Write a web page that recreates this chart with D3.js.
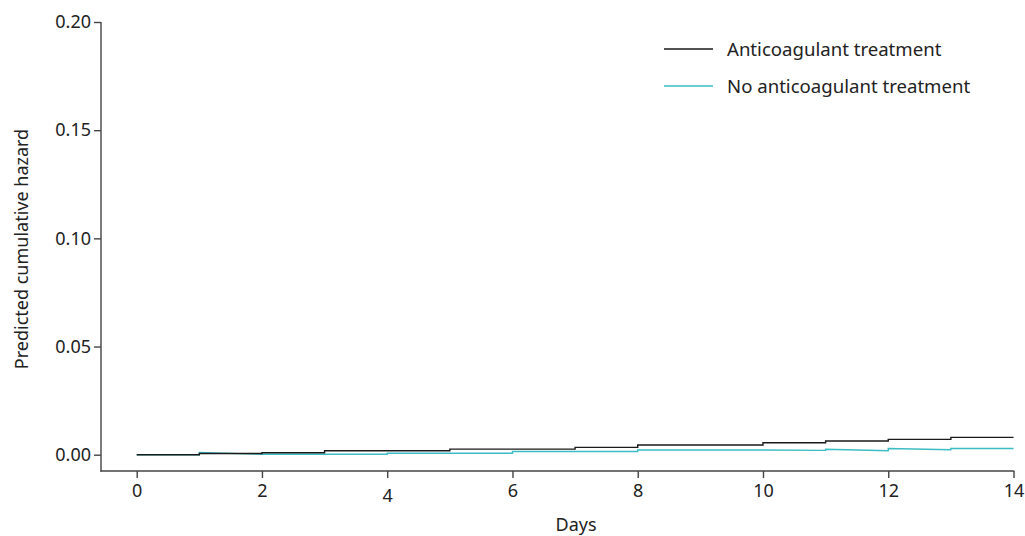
<!DOCTYPE html>
<html>
<head>
<meta charset="utf-8">
<script src="https://cdn.jsdelivr.net/npm/d3@7"></script>
<style>
  html, body { margin: 0; padding: 0; background: #fff; }
  svg text { font-family: "Noto Sans", "Open Sans", sans-serif; fill: #222; }
</style>
</head>
<body>
<svg id="chart" width="1025" height="536"></svg>
<script>
// ---- data ----
const seriesNames = ["Anticoagulant treatment", "No anticoagulant treatment"];
const seriesColors = ["#1a1a1a", "#3cbcc4"];

// Anticoagulant: step function, value holds from each day until the next
const antiDays   = [0, 1, 2, 3, 4, 5, 6, 7, 8, 9, 10, 11, 12, 13, 14];
const antiValues = [0, 0.00055, 0.0009, 0.0018, 0.0018, 0.0026, 0.0026, 0.0034, 0.0045, 0.0045, 0.0055, 0.0063, 0.0071, 0.0080, 0.0080];

// No anticoagulant: polyline (vertical jumps + slight drifts between days)
const noDays   = [0, 1, 1, 2, 2, 4, 4, 6, 6, 8, 8, 10, 11, 11, 12, 12, 13, 13, 14];
const noValues = [0, 0, 0.0010, 0.0002, 0.0002, 0.0002, 0.00065, 0.00065, 0.0015, 0.0015, 0.0022, 0.0022, 0.0020, 0.0025, 0.0018, 0.0029, 0.0023, 0.0029, 0.0029];

const xTicks = [0, 2, 4, 6, 8, 10, 12, 14];
const yTicks = [0, 0.05, 0.10, 0.15, 0.20];
const xLabel = "Days";
const yLabel = "Predicted cumulative hazard";

// ---- layout ----
const svg = d3.select("#chart");
const x = d3.scaleLinear().domain([0, 14]).range([136.7, 1013.5]);
const y = d3.scaleLinear().domain([0, 0.20]).range([454.7, 22]);
const axisLeftX = 101, axisBottomY = 471;
const axisColor = "#444";
const fs = 18;

// y axis
const yAxis = svg.append("g").attr("transform", `translate(${axisLeftX},0)`)
  .call(d3.axisLeft(y).tickValues(yTicks).tickFormat(d3.format(".2f")).tickSize(7).tickSizeOuter(0));
yAxis.select(".domain").remove();
yAxis.append("line").attr("x1", 0).attr("x2", 0).attr("y1", y(0.20)).attr("y2", axisBottomY + 0.5)
  .attr("stroke", axisColor).attr("stroke-width", 1.4);
yAxis.selectAll(".tick line").attr("stroke", axisColor).attr("stroke-width", 1.4);
yAxis.selectAll(".tick text").attr("x", -10).attr("font-size", fs).style("fill", "#222");

// x axis
const xAxis = svg.append("g").attr("transform", `translate(0,${axisBottomY})`)
  .call(d3.axisBottom(x).tickValues(xTicks).tickFormat(d3.format("d")).tickSize(7).tickSizeOuter(0));
xAxis.select(".domain").remove();
xAxis.append("line").attr("x1", axisLeftX - 0.7).attr("x2", x(14) + 0.7).attr("y1", 0).attr("y2", 0)
  .attr("stroke", axisColor).attr("stroke-width", 1.4);
xAxis.selectAll(".tick line").attr("stroke", axisColor).attr("stroke-width", 1.4);
xAxis.selectAll(".tick text").attr("y", 13).attr("font-size", fs).style("fill", "#222")
  .attr("dy", d => d === 4 ? "1.0em" : "0.71em");

// axis titles
svg.append("text").attr("x", x(7) + 1).attr("y", 531).attr("text-anchor", "middle")
  .attr("font-size", fs).text(xLabel);
svg.append("text").attr("transform", `translate(28,249) rotate(-90)`)
  .attr("text-anchor", "middle").attr("font-size", fs).text(yLabel);

// lines
const teal = d3.line().x((d, i) => x(noDays[i])).y((d, i) => y(noValues[i]));
svg.append("path").datum(noValues).attr("d", teal)
  .attr("fill", "none").attr("stroke", seriesColors[1]).attr("stroke-width", 1.4);

const step = d3.line().curve(d3.curveStepAfter).x((d, i) => x(antiDays[i])).y((d, i) => y(antiValues[i]));
svg.append("path").datum(antiValues).attr("d", step)
  .attr("fill", "none").attr("stroke", seriesColors[0]).attr("stroke-width", 1.4);

// legend
const legend = svg.append("g");
const legY = [49, 86];
seriesNames.forEach((name, i) => {
  legend.append("line").attr("x1", 664).attr("x2", 713).attr("y1", legY[i]).attr("y2", legY[i])
    .attr("stroke", seriesColors[i]).attr("stroke-width", 1.4);
  legend.append("text").attr("x", 727).attr("y", legY[i]).attr("dy", "0.35em")
    .attr("font-size", 18.6).text(name);
});
</script>
</body>
</html>
